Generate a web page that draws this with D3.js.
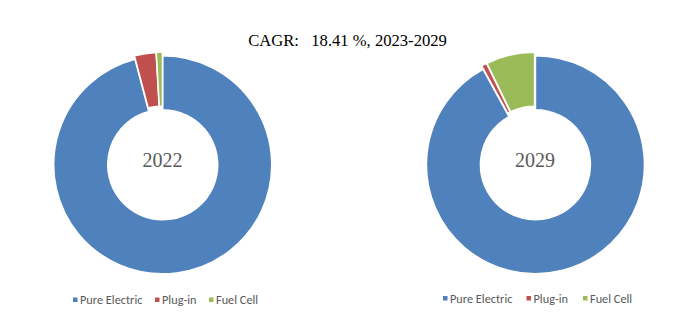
<!DOCTYPE html>
<html><head><meta charset="utf-8">
<script src="https://cdn.jsdelivr.net/npm/d3@7"></script>
<style>html,body{margin:0;padding:0;background:#fff;}svg{display:block;}</style>
</head><body>
<svg id="c" width="697" height="322"></svg>
<script>
const categories = ["Pure Electric", "Plug-in", "Fuel Cell"];
const years = ["2022", "2029"];
const values2022 = [95.9, 3.2, 0.9];
const values2029 = [92.0, 0.8, 7.2];
const titleText = "CAGR:   18.41 %, 2023-2029";

const colors = d3.scaleOrdinal().domain(categories).range(["#4F81BD", "#C0504D", "#9BBB59"]);
const svg = d3.select("#c");

svg.append("text").attr("x", 347.5).attr("y", 46).attr("text-anchor", "middle")
  .attr("font-family", "'Palatino Linotype','Book Antiqua',Palatino,'Liberation Serif',serif")
  .attr("font-size", 16.6).attr("fill", "#000").style("white-space", "pre").text(titleText);

const charts = [
  {year: years[0], values: values2022, cx: 162.5, cy: 163, legendX: 73, legendY: 300, offs: [0, 82, 136]},
  {year: years[1], values: values2029, cx: 535, cy: 163, legendX: 443, legendY: 298.5, offs: [0, 83.5, 140]}
];
const outerR = 109, innerR = 55, explode = 1.8;
const pie = d3.pie().sort(null).value(d => d.v);
const arc = d3.arc().innerRadius(innerR).outerRadius(outerR);

charts.forEach(ch => {
  const g = svg.append("g").attr("transform", `translate(${ch.cx},${ch.cy})`);
  const data = pie(categories.map((c, i) => ({c, v: ch.values[i]})));
  g.selectAll("path").data(data).enter().append("path")
    .attr("d", arc)
    .attr("fill", d => colors(d.data.c))
    .attr("stroke", "#fff").attr("stroke-width", 1.5)
    .attr("transform", d => {
      const a = (d.startAngle + d.endAngle) / 2;
      return `translate(${Math.sin(a) * explode},${-Math.cos(a) * explode})`;
    });
  g.append("text").attr("x", 0).attr("y", 4).attr("text-anchor", "middle")
    .attr("font-family", "'Palatino Linotype','Book Antiqua',Palatino,'Liberation Serif',serif")
    .attr("font-size", 20).attr("fill", "#595959").text(ch.year);

  const lg = svg.append("g").attr("transform", `translate(${ch.legendX},${ch.legendY})`);
  categories.forEach((c, i) => {
    const it = lg.append("g").attr("transform", `translate(${ch.offs[i]},0)`);
    it.append("rect").attr("x", 0).attr("y", -2.5).attr("width", 4.5).attr("height", 4.5).attr("fill", colors(c));
    it.append("text").attr("x", 7).attr("y", 4).attr("font-family", "Carlito,Calibri,Lato,'Open Sans',sans-serif")
      .attr("font-size", 12.3).attr("fill", "#595959").text(c);
  });
});
</script>
</body></html>
